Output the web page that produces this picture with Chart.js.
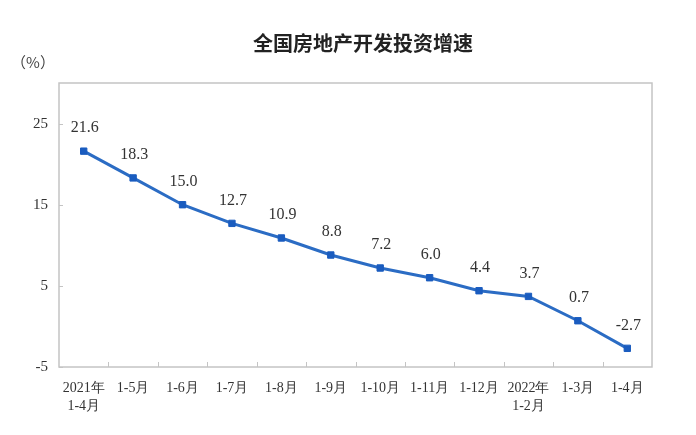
<!DOCTYPE html>
<html>
<head>
<meta charset="utf-8">
<script src="https://cdn.jsdelivr.net/npm/chart.js@4/dist/chart.umd.min.js"></script>
<style>
  html, body { margin: 0; padding: 0; background: #fff; }
  #wrap { width: 696px; height: 435px; }
</style>
</head>
<body>
<div id="wrap"><canvas id="chart" width="696" height="435"></canvas></div>
<script>
// data
const categories = [
  ["2021年", "1-4月"], "1-5月", "1-6月", "1-7月", "1-8月", "1-9月",
  "1-10月", "1-11月", "1-12月", ["2022年", "1-2月"], "1-3月", "1-4月"
]
const growth = [21.6, 18.3, 15.0, 12.7, 10.9, 8.8, 7.2, 6.0, 4.4, 3.7, 0.7, -2.7]
const yTicks = [-5, 5, 15, 25]

const chartTitle = "全国房地产开发投资增速"
const unitLabel = "（%）"

const serif = '"Liberation Serif", "Times New Roman", serif'
const boxColor = "#c4c4c4"

// title, unit, frame, inner tick marks and value labels
const decorations = {
  id: "decorations",
  afterDraw(chart) {
    const ctx = chart.ctx
    const area = chart.chartArea
    const x = chart.scales.x
    const y = chart.scales.y

    ctx.save()
    ctx.fillStyle = "#222"
    ctx.font = 'bold 20px "Noto Sans CJK SC", sans-serif'
    ctx.textAlign = "center"
    ctx.textBaseline = "middle"
    ctx.fillText(chartTitle, 363, 43)

    ctx.fillStyle = "#444"
    ctx.font = '15px "Noto Sans CJK SC", sans-serif'
    ctx.fillText(unitLabel, 33, 62)

    // frame
    ctx.strokeStyle = boxColor
    ctx.lineWidth = 1.5
    ctx.strokeRect(area.left, area.top, area.right - area.left, area.bottom - area.top)

    // small ticks inside the frame
    ctx.lineWidth = 1
    ctx.beginPath()
    for (let i = 1; i < categories.length; i++) {
      const px = Math.round((x.getPixelForValue(i - 1) + x.getPixelForValue(i)) / 2) + 0.5
      ctx.moveTo(px, area.bottom)
      ctx.lineTo(px, area.bottom - 5)
    }
    yTicks.forEach((v) => {
      const py = Math.round(y.getPixelForValue(v)) + 0.5
      ctx.moveTo(area.left, py)
      ctx.lineTo(area.left + 4, py)
    })
    ctx.stroke()

    // value labels
    const meta = chart.getDatasetMeta(0)
    ctx.fillStyle = "#333"
    ctx.font = "16px " + serif
    meta.data.forEach((pt, i) => {
      ctx.fillText(growth[i].toFixed(1), pt.x + 1, pt.y - 23)
    })
    ctx.restore()
  },
}

new Chart(document.getElementById("chart"), {
  type: "line",
  data: {
    labels: categories,
    datasets: [
      {
        data: growth,
        borderColor: "#2b6cc4",
        borderWidth: 3,
        backgroundColor: "#1a5cbf",
        pointStyle: "rect",
        pointRadius: 4.5,
        pointBorderWidth: 1,
        pointBorderColor: "#1a5cbf",
        tension: 0,
      },
    ],
  },
  options: {
    responsive: false,
    animation: false,
    layout: {
      padding: { left: 0, right: 44, top: 83, bottom: 0 },
    },
    plugins: {
      legend: { display: false },
      title: { display: false },
      tooltip: { enabled: false },
    },
    scales: {
      x: {
        offset: true,
        grid: { display: false, drawTicks: false },
        border: { display: false },
        ticks: {
          color: "#333",
          padding: 12,
          autoSkip: false,
          maxRotation: 0,
          font: { family: serif, size: 14, lineHeight: 1.3 },
        },
        afterFit: (s) => {
          s.height = 68
        },
      },
      y: {
        min: -5,
        max: 30,
        grid: { display: false, drawTicks: false },
        border: { display: false },
        afterBuildTicks: (s) => {
          s.ticks = yTicks.map((v) => ({ value: v }))
        },
        ticks: {
          color: "#333",
          padding: 11,
          font: { family: serif, size: 15 },
        },
        afterFit: (s) => {
          s.width = 59
        },
      },
    },
  },
  plugins: [decorations],
})
</script>
</body>
</html>
